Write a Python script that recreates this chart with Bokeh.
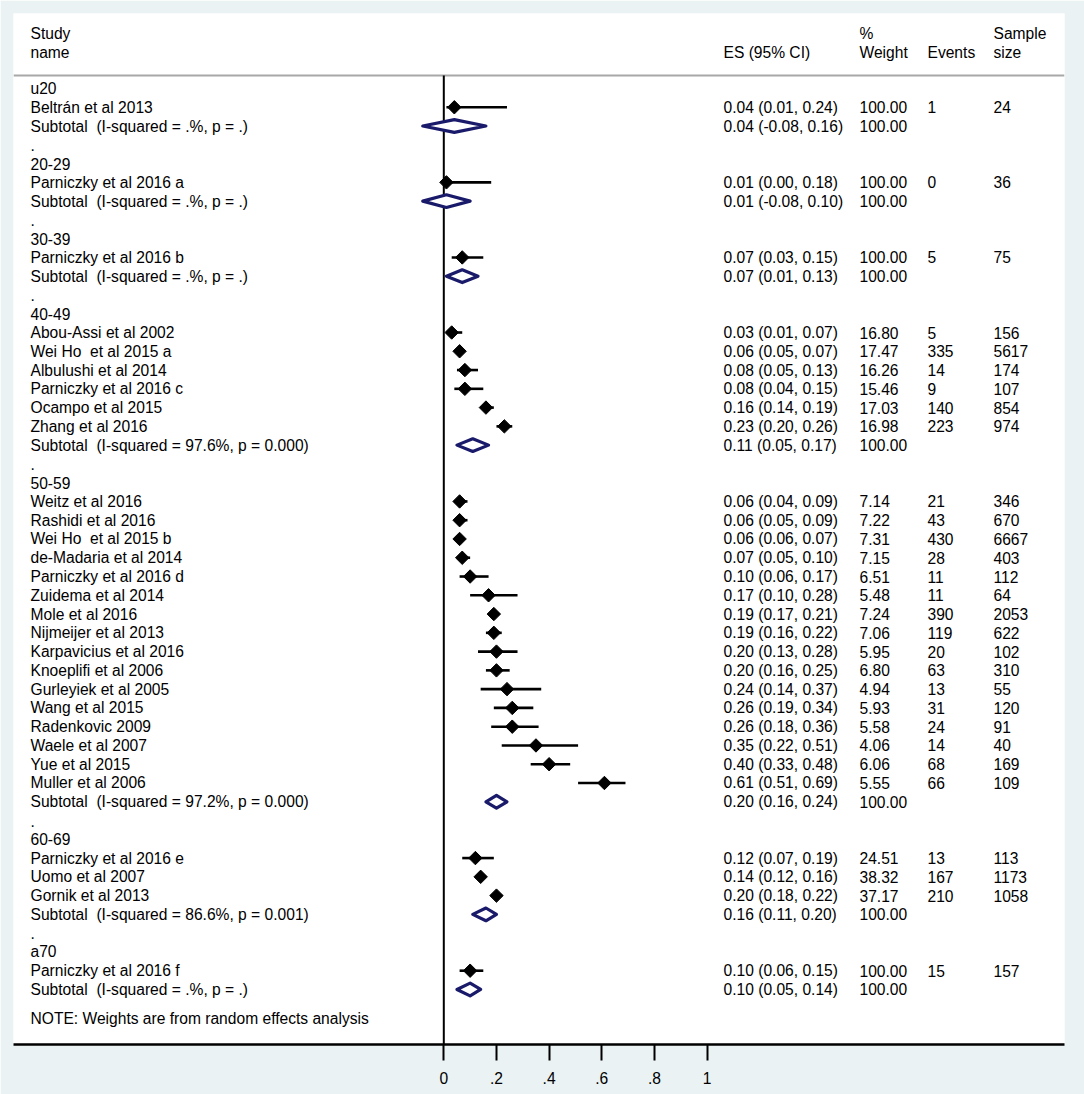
import numpy as np
from bokeh.plotting import figure
from bokeh.models import ColumnDataSource, Range1d, FixedTicker
from bokeh.core.properties import value
from bokeh.embed import file_html
from bokeh.resources import INLINE

# ---------------- data ----------------
groups = ["u20", "20-29", "30-39", "40-49", "50-59", "60-69", "a70"]
group_sizes = [1, 1, 1, 6, 16, 3, 1]

study_names = [
    "Beltrán et al 2013",
    "Parniczky et al 2016 a",
    "Parniczky et al 2016 b",
    "Abou-Assi et al 2002", "Wei Ho\u00a0 et al 2015 a", "Albulushi et al 2014",
    "Parniczky et al 2016 c", "Ocampo et al 2015", "Zhang et al 2016",
    "Weitz et al 2016", "Rashidi et al 2016", "Wei Ho\u00a0 et al 2015 b",
    "de-Madaria et al 2014", "Parniczky et al 2016 d", "Zuidema et al 2014",
    "Mole et al 2016", "Nijmeijer et al 2013", "Karpavicius et al 2016",
    "Knoeplifi et al 2006", "Gurleyiek et al 2005", "Wang et al 2015",
    "Radenkovic 2009", "Waele et al 2007", "Yue et al 2015", "Muller et al 2006",
    "Parniczky et al 2016 e", "Uomo et al 2007", "Gornik et al 2013",
    "Parniczky et al 2016 f",
]
study_es = [0.04, 0.01, 0.07,
            0.03, 0.06, 0.08, 0.08, 0.16, 0.23,
            0.06, 0.06, 0.06, 0.07, 0.10, 0.17, 0.19, 0.19, 0.20, 0.20, 0.24,
            0.26, 0.26, 0.35, 0.40, 0.61,
            0.12, 0.14, 0.20,
            0.10]
study_lo = [0.01, 0.00, 0.03,
            0.01, 0.05, 0.05, 0.04, 0.14, 0.20,
            0.04, 0.05, 0.06, 0.05, 0.06, 0.10, 0.17, 0.16, 0.13, 0.16, 0.14,
            0.19, 0.18, 0.22, 0.33, 0.51,
            0.07, 0.12, 0.18,
            0.06]
study_hi = [0.24, 0.18, 0.15,
            0.07, 0.07, 0.13, 0.15, 0.19, 0.26,
            0.09, 0.09, 0.07, 0.10, 0.17, 0.28, 0.21, 0.22, 0.28, 0.25, 0.37,
            0.34, 0.36, 0.51, 0.48, 0.69,
            0.19, 0.16, 0.22,
            0.15]
study_weight = [100.00, 100.00, 100.00,
                16.80, 17.47, 16.26, 15.46, 17.03, 16.98,
                7.14, 7.22, 7.31, 7.15, 6.51, 5.48, 7.24, 7.06, 5.95, 6.80, 4.94,
                5.93, 5.58, 4.06, 6.06, 5.55,
                24.51, 38.32, 37.17,
                100.00]
study_events = [1, 0, 5,
                5, 335, 14, 9, 140, 223,
                21, 43, 430, 28, 11, 11, 390, 119, 20, 63, 13, 31, 24, 14, 68, 66,
                13, 167, 210,
                15]
study_sample = [24, 36, 75,
                156, 5617, 174, 107, 854, 974,
                346, 670, 6667, 403, 112, 64, 2053, 622, 102, 310, 55, 120, 91, 40, 169, 109,
                113, 1173, 1058,
                157]

sub_isq = [".%, p = .", ".%, p = .", ".%, p = .", "97.6%, p = 0.000",
           "97.2%, p = 0.000", "86.6%, p = 0.001", ".%, p = ."]
sub_es = [0.04, 0.01, 0.07, 0.11, 0.20, 0.16, 0.10]
sub_lo = [-0.08, -0.08, 0.01, 0.05, 0.16, 0.11, 0.05]
sub_hi = [0.16, 0.10, 0.13, 0.17, 0.24, 0.20, 0.14]

x_ticks = [0, 0.2, 0.4, 0.6, 0.8, 1]
x_tick_labels = ["0", ".2", ".4", ".6", ".8", "1"]

note_text = "NOTE: Weights are from random effects analysis"

# ---------------- layout of rows ----------------
FONT = value("Liberation Sans")
FS = "15.6px"
BG = "#eaf2f3"
NAVY = "#1a1a6b"

# column x positions (data units: px offset from zero line / 263.3)
def px(pagex):
    return (pagex - 443.3) / 263.3

X_STUDY = px(30)
X_ES = px(723)
X_W = px(859)
X_EV = px(927)
X_N = px(993)

label_x, label_y, label_t = [], [], []
st_row = []
sub_row = []
row = 0
for gi, (g, n) in enumerate(zip(groups, group_sizes)):
    label_x.append(X_STUDY); label_y.append(row); label_t.append(g)
    row += 1
    for j in range(n):
        st_row.append(row)
        row += 1
    sub_row.append(row)
    row += 1
    if gi < len(groups) - 1:
        label_x.append(X_STUDY); label_y.append(row); label_t.append(".")
        row += 1
last_row = row - 1

# study texts
for i, r in enumerate(st_row):
    label_x += [X_STUDY, X_ES, X_W, X_EV, X_N]
    label_y += [r] * 5
    label_t += [study_names[i],
                f"{study_es[i]:.2f} ({study_lo[i]:.2f}, {study_hi[i]:.2f})",
                f"{study_weight[i]:.2f}", str(study_events[i]), str(study_sample[i])]
# subtotal texts
for i, r in enumerate(sub_row):
    label_x += [X_STUDY, X_ES, X_W]
    label_y += [r] * 3
    label_t += [f"Subtotal\u00a0 (I-squared = {sub_isq[i]})",
                f"{sub_es[i]:.2f} ({sub_lo[i]:.2f}, {sub_hi[i]:.2f})", "100.00"]
# note
label_x.append(X_STUDY); label_y.append(last_row + 1.55); label_t.append(note_text)

# headers
H1, H2 = -2.93, -1.92
hdr_x = [X_STUDY, X_STUDY, X_ES, X_W, X_W, X_EV, X_N, X_N]
hdr_y = [H1, H2, H2, H1, H2, H2, H1, H2]
hdr_t = ["Study", "name", "ES (95% CI)", "%", "Weight", "Events", "Sample", "size"]
label_x += hdr_x; label_y += hdr_y; label_t += hdr_t

# ---------------- figure ----------------
X0, X1 = px(13), px(1064)
ROW_PX = 18.77
Y_TOP = (13 - 88) / ROW_PX
Y_BOT = (1044 - 88) / ROW_PX

p = figure(frame_width=1051, frame_height=1031,
           x_range=Range1d(X0, X1), y_range=Range1d(Y_BOT, Y_TOP),
           output_backend="svg", toolbar_location=None,
           y_axis_location=None, min_border_left=13, min_border_top=13,
           min_border_right=20, min_border_bottom=50)
p.background_fill_color = "white"
p.border_fill_color = BG
p.outline_line_color = None
p.grid.visible = False

ax = p.xaxis[0]
ax.ticker = FixedTicker(ticks=x_ticks)
ax.major_label_overrides = {t: l for t, l in zip(x_ticks, x_tick_labels)}
ax.minor_tick_line_color = None
ax.major_tick_in = 0
ax.major_tick_out = 16
ax.major_tick_line_width = 2
ax.major_tick_line_color = "black"
ax.axis_line_width = 2.5
ax.axis_line_color = "black"
ax.major_label_standoff = 11
ax.major_label_text_font = "Liberation Sans"
ax.major_label_text_font_size = FS
ax.major_label_text_color = "black"

HDR_LINE = -0.69
# header separator
p.segment(x0=[X0], y0=[HDR_LINE], x1=[X1], y1=[HDR_LINE],
          line_color="#a8a8a8", line_width=2)
# null line
p.segment(x0=[0], y0=[HDR_LINE], x1=[0], y1=[Y_BOT], line_color="black", line_width=2)

# study CIs and markers
src = ColumnDataSource(dict(y=st_row, es=study_es, lo=study_lo, hi=study_hi))
p.segment(x0="lo", y0="y", x1="hi", y1="y", source=src, line_color="black", line_width=2.6)
p.scatter(x="es", y="y", source=src, marker="square", angle=np.pi / 4, size=9.5,
          fill_color="black", line_color="black")

# subtotal diamonds
h = 0.34
xs = [[lo, e, hi, e] for lo, e, hi in zip(sub_lo, sub_es, sub_hi)]
ys = [[r, r - h, r, r + h] for r in sub_row]
p.patches(xs=xs, ys=ys, fill_color="white", line_color=NAVY, line_width=3.2,
          line_join="round")

# texts
tsrc = ColumnDataSource(dict(x=label_x, y=label_y, t=label_t))
p.text(x="x", y="y", text="t", source=tsrc, text_font=FONT, text_font_size=FS,
       text_baseline="middle", text_align="left", text_color="black")

open("out.html", "w").write(file_html(p, INLINE))
